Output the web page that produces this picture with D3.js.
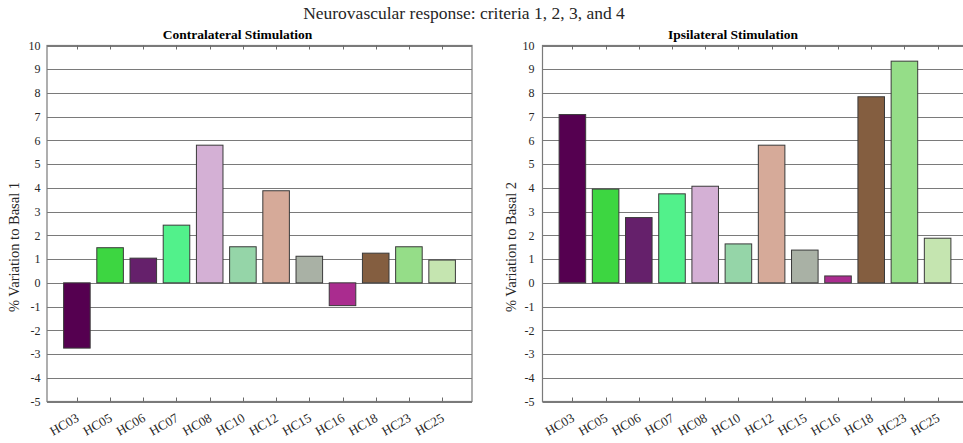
<!DOCTYPE html>
<html>
<head>
<meta charset="utf-8">
<script src="https://cdn.jsdelivr.net/npm/d3@7"></script>
<style>
  html, body { margin: 0; padding: 0; background: #ffffff; }
  svg { display: block; font-family: "Liberation Serif", "Times New Roman", serif; }
</style>
</head>
<body>
<svg id="chart" width="963" height="443"></svg>
<script>
// Subjects on the x axis
const categories = ["HC03", "HC05", "HC06", "HC07", "HC08", "HC10", "HC12", "HC15", "HC16", "HC18", "HC23", "HC25"];

// % variation to basal, per subject
const contralateral = [-2.75, 1.48, 1.04, 2.43, 5.80, 1.52, 3.88, 1.12, -0.96, 1.25, 1.52, 0.96];
const ipsilateral   = [7.09, 3.95, 2.75, 3.75, 4.07, 1.64, 5.80, 1.38, 0.29, 7.84, 9.34, 1.88];

// One fill per subject
const barColors = ["#550050", "#3dd641", "#65206b", "#52f18b", "#d4b0d5", "#95d5a8",
                   "#d6aa99", "#a9b1a5", "#aa2c8f", "#845e40", "#95dd88", "#c5e5b0"];

// Y axis ticks
const yTickValues = [-5, -4, -3, -2, -1, 0, 1, 2, 3, 4, 5, 6, 7, 8, 9, 10];

const mainTitle = "Neurovascular response: criteria 1, 2, 3, and 4";
const panelTitles = ["Contralateral Stimulation", "Ipsilateral Stimulation"];
const yLabels = ["% Variation to Basal 1", "% Variation to Basal 2"];

const svg = d3.select("#chart");
svg.append("rect").attr("width", 963).attr("height", 443).attr("fill", "#ffffff");

svg.append("text")
  .attr("x", 464).attr("y", 18.5)
  .attr("text-anchor", "middle")
  .attr("font-size", 17.5)
  .attr("fill", "#262626")
  .text(mainTitle);

const plotTop = 45.5, plotBottom = 401.5;
const panels = [
  { left: 47, right: 472, values: contralateral, title: panelTitles[0], ylabel: yLabels[0], labelX: 19, tickGap: 6.5 },
  { left: 542.5, right: 967.5, values: ipsilateral, title: panelTitles[1], ylabel: yLabels[1], labelX: 516, tickGap: 8 }
];

panels.forEach(p => {
  const g = svg.append("g");
  const x = d3.scaleLinear().domain([0.1, 12.9]).range([p.left, p.right]);
  const y = d3.scaleLinear().domain([-5, 10]).range([plotBottom, plotTop]);
  const halfW = 0.4;

  // horizontal grid
  g.append("g").selectAll("line").data(yTickValues).join("line")
    .attr("x1", p.left).attr("x2", p.right)
    .attr("y1", d => Math.round(y(d)) + 0.5).attr("y2", d => Math.round(y(d)) + 0.5)
    .attr("stroke", "#7a7a7a").attr("stroke-width", 1);

  // bars
  g.append("g").selectAll("rect").data(p.values).join("rect")
    .attr("x", (d, i) => x(i + 1 - halfW))
    .attr("width", (d, i) => x(i + 1 + halfW) - x(i + 1 - halfW))
    .attr("y", d => y(Math.max(0, d)))
    .attr("height", d => Math.abs(y(d) - y(0)))
    .attr("fill", (d, i) => barColors[i])
    .attr("stroke", "#3a3a3a").attr("stroke-width", 1);

  // axis box
  g.append("rect")
    .attr("x", p.left).attr("y", plotTop)
    .attr("width", p.right - p.left).attr("height", plotBottom - plotTop)
    .attr("fill", "none").attr("stroke", "#7a7a7a").attr("stroke-width", 1.2);

  // x ticks, inward on top and bottom
  const xt = g.append("g");
  categories.forEach((c, i) => {
    const px = Math.round(x(i + 1)) + 0.5;
    xt.append("line").attr("x1", px).attr("x2", px).attr("y1", plotBottom).attr("y2", plotBottom - 4)
      .attr("stroke", "#6a6a6a");
    xt.append("line").attr("x1", px).attr("x2", px).attr("y1", plotTop).attr("y2", plotTop + 4)
      .attr("stroke", "#6a6a6a");
    xt.append("text")
      .attr("transform", `translate(${x(i + 1) + 3},${plotBottom + 19}) rotate(-30)`)
      .attr("text-anchor", "end")
      .attr("font-size", 13)
      .attr("fill", "#262626")
      .text(c);
  });

  // y tick labels
  g.append("g").selectAll("text").data(yTickValues).join("text")
    .attr("x", p.left - p.tickGap)
    .attr("y", d => y(d))
    .attr("dy", "0.35em")
    .attr("text-anchor", "end")
    .attr("font-size", 12)
    .attr("fill", "#262626")
    .text(d => d);

  // y axis label
  g.append("text")
    .attr("transform", `translate(${p.labelX},247) rotate(-90)`)
    .attr("text-anchor", "middle")
    .attr("font-size", 14.5)
    .attr("fill", "#262626")
    .text(p.ylabel);

  // panel title
  g.append("text")
    .attr("x", (p.left + p.right) / 2 - 22)
    .attr("y", 39)
    .attr("text-anchor", "middle")
    .attr("font-size", 13.5)
    .attr("font-weight", "bold")
    .attr("fill", "#000000")
    .text(p.title);
});
</script>
</body>
</html>
